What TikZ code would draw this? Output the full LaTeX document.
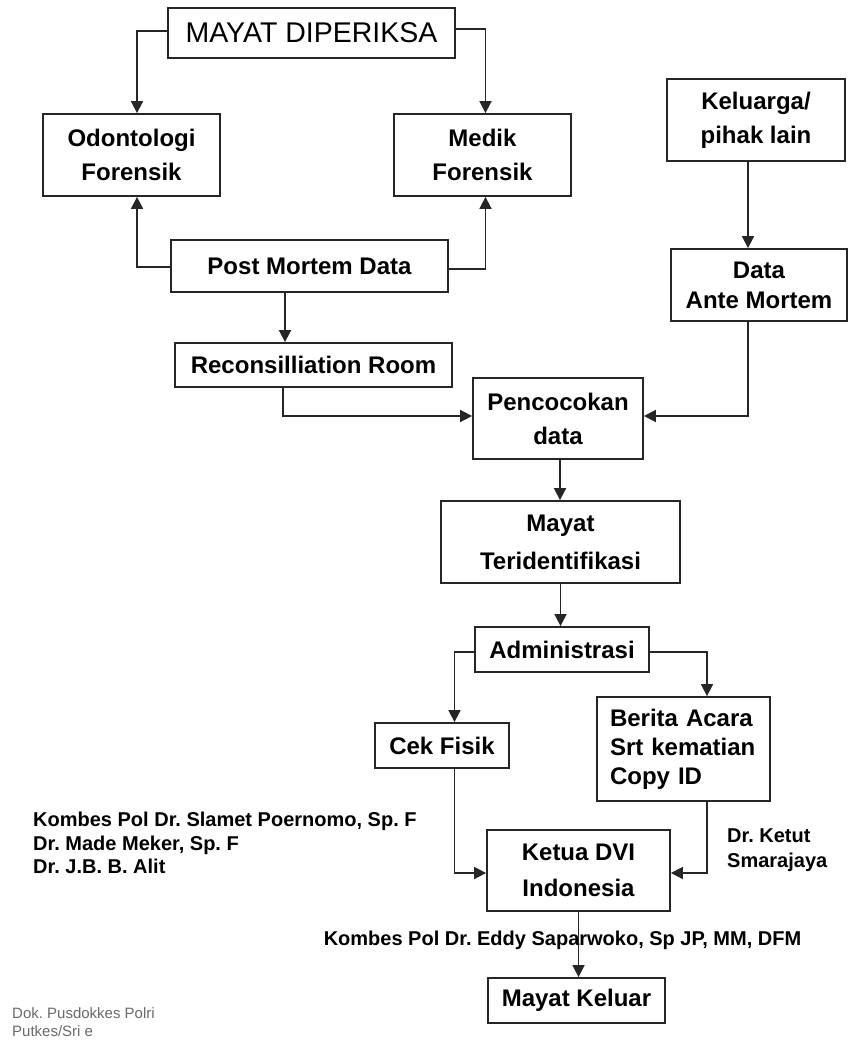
\documentclass[tikz,border=0pt]{standalone}
\usepackage{fontspec}
\setmainfont{Liberation Sans}
\usetikzlibrary{arrows.meta}
\definecolor{ink}{HTML}{262626}
\definecolor{dok}{HTML}{6A6A6A}
\frenchspacing

\begin{document}
\begin{tikzpicture}[x=1pt,y=-1pt,
  box/.style={draw=ink,line width=1.8pt,inner sep=0pt,align=center,
    font=\bfseries\fontsize{24}{34}\selectfont},
  arr/.style={draw=ink,line width=1.7pt,-{Triangle[width=12pt,length=12pt]}},
  note/.style={inner sep=0pt,align=left,font=\bfseries\fontsize{20}{23.5}\selectfont}]
\useasboundingbox (0,0) rectangle (848,1046);
\fill[white] (0,0) rectangle (848,1046);
% boxes, placed by centre (px)
\node[box,minimum width=287pt,minimum height=50pt,font=\fontsize{28.5}{30}\selectfont]
  (mayat) at (311.5,33) {MAYAT DIPERIKSA};
\node[box,minimum width=177pt,minimum height=82pt] (odonto) at (131.5,155) {Odontologi\\Forensik};
\node[box,minimum width=177pt,minimum height=82pt] (medik) at (482.5,155) {Medik\\Forensik};
\node[box,minimum width=178pt,minimum height=82pt] (kel) at (756,120) {Keluarga/\\pihak lain};
\node[box,minimum width=277pt,minimum height=52pt] (pm) at (309.5,266) {Post Mortem Data};
\node[box,minimum width=176pt,minimum height=72pt,font=\bfseries\fontsize{24}{30}\selectfont]
  (ante) at (759,285) {Data\\Ante Mortem};
\node[box,minimum width=277pt,minimum height=44pt] (recon) at (313.5,365) {Reconsilliation Room};
\node[box,minimum width=170pt,minimum height=81pt] (cocok) at (558,418.5) {Pencocokan\\data};
\node[box,minimum width=239pt,minimum height=82pt,font=\bfseries\fontsize{24}{38}\selectfont]
  (teri) at (560.5,542) {Mayat\\Teridentifikasi};
\node[box,minimum width=174pt,minimum height=45pt] (admin) at (562,649.5) {Administrasi};
\node[box,minimum width=134pt,minimum height=45pt] (cek) at (442,745.5) {Cek Fisik};
\node[box,minimum width=173pt,minimum height=104pt,align=left,text width=147pt,
  font=\bfseries\fontsize{24}{29}\selectfont]
  (berita) at (683.5,749) {Berita Acara\\Srt kematian\\Copy ID};
\node[box,minimum width=183pt,minimum height=81pt,font=\bfseries\fontsize{24}{36}\selectfont]
  (ketua) at (578.5,870.5) {Ketua DVI\\Indonesia};
\node[box,minimum width=177pt,minimum height=45pt] (keluar) at (576.5,1000.5) {Mayat Keluar};
% names beside the boxes
\node[note,anchor=west] (tim) at (33,843)
  {Kombes Pol Dr. Slamet Poernomo, Sp. F\\Dr. Made Meker, Sp. F\\Dr. J.B. B. Alit};
\node[note,anchor=west,font=\bfseries\fontsize{20}{25}\selectfont] (ketut) at (727,850) {Dr. Ketut\\Smarajaya};
\node[note] (eddy) at (562.5,940) {Kombes Pol Dr. Eddy Saparwoko, Sp JP, MM, DFM};
\node[note,anchor=west,text=dok,font=\fontsize{15}{18.5}\selectfont] (dok) at (12,1022)
  {Dok. Pusdokkes Polri\\Putkes/Sri e};
% connectors
\draw[arr] ([yshift=2pt]mayat.west) -| ([xshift=5.5pt]odonto.north);
\draw[arr] ([yshift=4pt]mayat.east) -| ([xshift=3pt]medik.north);
\draw[arr] ([yshift=-1pt]pm.west) -| ([xshift=5.5pt]odonto.south);
\draw[arr] ([yshift=-3pt]pm.east) -| ([xshift=3pt]medik.south);
\draw[arr] ([xshift=-24.5pt]pm.south) -- ([xshift=-24.5pt]pm.south |- recon.north);
\draw[arr] ([xshift=-8pt]kel.south) -- ([xshift=-8pt]kel.south |- ante.north);
\draw[arr] ([xshift=-11pt]ante.south) |- ([yshift=2.5pt]cocok.east);
\draw[arr] ([xshift=-30.5pt]recon.south) |- ([yshift=2.5pt]cocok.west);
\draw[arr] ([xshift=2pt]cocok.south) -- ([xshift=2pt]cocok.south |- teri.north);
\draw[arr] (teri.south) -- (teri.south |- admin.north);
\draw[arr] ([yshift=-2.5pt]admin.west) -| ([xshift=12.5pt]cek.north);
\draw[arr] ([yshift=-2.5pt]admin.east) -| ([xshift=23.5pt]berita.north);
\draw[arr] ([xshift=12.5pt]cek.south) |- ([yshift=-2.5pt]ketua.west);
\draw[arr] ([xshift=23.5pt]berita.south) |- ([yshift=-2.5pt]ketua.east);
\draw[arr] (ketua.south) -- (ketua.south |- keluar.north);
\end{tikzpicture}
\end{document}
